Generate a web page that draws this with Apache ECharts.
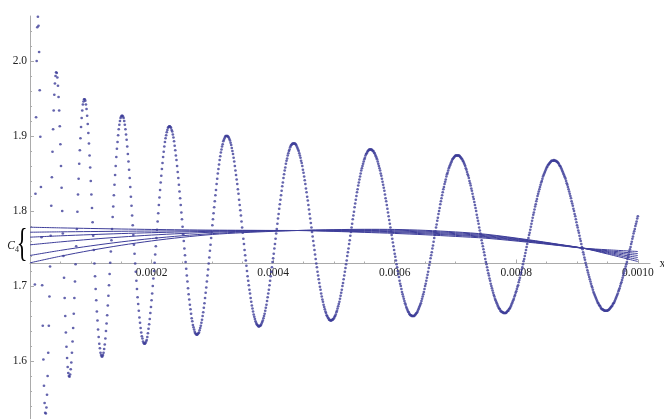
<!DOCTYPE html>
<html><head><meta charset="utf-8">
<script src="https://cdn.jsdelivr.net/npm/echarts@6/dist/echarts.min.js"></script>
<style>html,body{margin:0;padding:0;background:#fff}#c{width:664px;height:419px}</style>
</head><body><div id="c"></div>
<script>
// dots: y values (thousandths) sampled every xStep starting at x = xStep (null = no visible dot)
const xStep = 1e-6;
const dotScale = 1000;
const dots0 = [null,null,null,null,null,null,null,1702,1823,1925,2000,2045,2059,2047,2012,1961,1899,1832,1765,1701,1647,1602,1567,1544,1531,1530,1538,1555,1580,1611,1647,1686,1726,1767,1807,1845,1879,1909,1934,1955,1970,1980,1985,1984,1978,1967,1952,1934,1913,1889,1860,1831,1800,1770,1740,1711,1684,1660,1638,1619,1604,1592,1584,1580,1579,1582,1589,1598,1611,1626,1644,1663,1684,1706,1729,1753,1776,1799,1822,1843,1863,1881,1897,1912,1924,1934,1942,1946,1949,1949,1947,1942,1936,1927,1916,1904,1890,1874,1858,1840];
const dots1 = [1822,1804,1785,1767,1748,1730,1713,1696,1681,1666,1654,1642,1632,1623,1617,1611,1608,1606,1606,1608,1611,1616,1622,1630,1640,1650,1661,1674,1687,1701,1716,1731,1746,1761,1776,1792,1806,1821,1835,1848,1860,1872,1883,1892,1901,1909,1915,1920,1924,1926,1927,1927,1926,1924,1920,1915,1909,1902,1895,1886,1876,1866,1855,1844,1832,1819,1807,1794,1781,1768,1755,1743,1730,1719,1707,1696,1685,1676,1667,1658,1651,1644,1638,1633,1630,1626,1624,1623,1623,1624,1626,1628,1632,1637,1643,1649,1656,1664,1672,1681];
const dots2 = [1690,1700,1710,1720,1731,1742,1753,1764,1775,1786,1797,1808,1818,1828,1838,1847,1856,1864,1872,1879,1886,1892,1897,1901,1905,1908,1911,1912,1913,1913,1912,1911,1908,1906,1902,1898,1893,1887,1881,1874,1868,1860,1852,1844,1835,1826,1817,1808,1798,1789,1779,1769,1760,1750,1741,1732,1723,1714,1706,1697,1689,1682,1675,1669,1663,1657,1653,1648,1645,1642,1639,1637,1636,1635,1635,1636,1637,1638,1641,1644,1647,1651,1655,1660,1665,1671,1677,1684,1691,1698,1706,1714,1722,1730,1738,1747,1755,1764,1772,1781];
const dots3 = [1789,1797,1805,1813,1821,1828,1836,1843,1850,1856,1862,1868,1873,1878,1882,1886,1889,1893,1895,1897,1899,1900,1900,1900,1900,1899,1898,1896,1894,1891,1888,1884,1880,1876,1871,1866,1860,1854,1848,1842,1836,1829,1823,1815,1808,1801,1794,1786,1778,1771,1763,1756,1748,1741,1734,1727,1720,1713,1707,1701,1695,1690,1684,1679,1674,1670,1666,1662,1659,1656,1653,1651,1649,1648,1647,1646,1646,1647,1647,1648,1650,1652,1654,1657,1660,1663,1667,1671,1675,1680,1685,1690,1695,1701,1707,1713,1719,1725,1732,1737];
const dots4 = [1743,1750,1756,1763,1770,1776,1783,1790,1796,1803,1809,1815,1821,1827,1833,1838,1844,1849,1854,1858,1863,1867,1870,1874,1877,1880,1882,1885,1887,1888,1889,1890,1890,1890,1890,1890,1889,1888,1886,1884,1882,1880,1877,1874,1871,1867,1864,1860,1855,1851,1846,1841,1836,1830,1825,1819,1814,1808,1802,1796,1790,1784,1778,1772,1766,1760,1754,1748,1742,1736,1730,1725,1719,1714,1709,1704,1699,1695,1690,1686,1682,1679,1675,1672,1669,1666,1664,1661,1660,1658,1657,1655,1655,1654,1654,1654,1655,1655,1656,1657];
const dots5 = [1659,1660,1662,1665,1667,1670,1673,1676,1679,1683,1687,1691,1695,1700,1704,1709,1714,1719,1724,1729,1734,1740,1745,1750,1756,1761,1767,1772,1778,1783,1789,1794,1799,1805,1810,1815,1820,1825,1829,1834,1838,1842,1846,1850,1854,1857,1860,1863,1866,1869,1871,1874,1876,1877,1879,1880,1881,1882,1882,1882,1882,1882,1881,1880,1880,1878,1877,1875,1873,1871,1869,1866,1863,1860,1857,1854,1850,1847,1843,1839,1835,1831,1827,1822,1817,1813,1808,1803,1798,1793,1788,1783,1778,1773,1768,1763,1758,1753,1748,1743];
const dots6 = [1739,1734,1729,1725,1720,1716,1712,1707,1703,1700,1696,1692,1689,1686,1683,1680,1677,1675,1672,1670,1668,1666,1665,1663,1662,1661,1661,1660,1660,1660,1660,1660,1661,1662,1663,1664,1665,1667,1669,1671,1673,1675,1677,1680,1683,1686,1689,1692,1696,1700,1703,1707,1711,1715,1719,1724,1728,1732,1737,1741,1745,1750,1754,1759,1764,1768,1773,1778,1782,1787,1791,1796,1800,1804,1809,1813,1817,1821,1825,1829,1832,1836,1839,1842,1846,1849,1851,1854,1857,1859,1861,1863,1865,1867,1869,1870,1871,1872,1873,1874];
const dots7 = [1874,1874,1874,1874,1874,1874,1873,1872,1871,1870,1869,1867,1866,1864,1862,1860,1857,1855,1852,1849,1847,1844,1840,1837,1834,1830,1827,1823,1819,1816,1812,1808,1804,1800,1795,1791,1787,1783,1778,1774,1770,1766,1761,1757,1753,1749,1745,1741,1736,1732,1729,1725,1721,1717,1714,1710,1707,1703,1700,1697,1694,1691,1688,1686,1683,1681,1679,1677,1675,1673,1671,1670,1669,1667,1666,1666,1665,1665,1664,1664,1664,1664,1664,1665,1666,1667,1667,1669,1670,1671,1673,1675,1677,1679,1681,1683,1686,1688,1691,1693];
const dots8 = [1696,1699,1701,1705,1708,1711,1715,1718,1722,1725,1729,1733,1736,1740,1744,1748,1752,1756,1760,1764,1768,1771,1775,1779,1783,1787,1791,1795,1798,1802,1806,1809,1813,1816,1820,1823,1826,1829,1832,1835,1838,1840,1843,1846,1848,1850,1852,1854,1856,1858,1859,1861,1862,1863,1864,1865,1866,1867,1867,1867,1867,1868,1867,1867,1867,1866,1866,1865,1864,1863,1861,1860,1859,1857,1855,1853,1851,1849,1847,1845,1843,1840,1837,1835,1832,1829,1826,1823,1820,1817,1813,1810,1807,1803,1800,1796,1793,1789,1785,1781];
const dots9 = [1778,1774,1771,1767,1763,1760,1756,1752,1749,1745,1742,1738,1735,1731,1728,1725,1721,1718,1715,1712,1709,1706,1703,1700,1698,1695,1692,1690,1688,1686,1684,1682,1680,1678,1677,1675,1674,1673,1671,1670,1669,1669,1668,1668,1667,1667,1667,1667,1667,1667,1668,1668,1669,1670,1671,1672,1673,1674,1676,1677,1678,1680,1682,1684,1686,1688,1690,1693,1695,1697,1700,1703,1705,1708,1711,1714,1717,1720,1723,1726,1729,1732,1736,1739,1742,1746,1749,1752,1756,1759,1763,1766,1770,1773,1776,1780,1783,1786,1790,1793];

// C4 curve family: x positions and values
const lineX = [0, 0.00005, 0.0001, 0.00015, 0.0002, 0.00025, 0.0003, 0.00035, 0.0004, 0.00044, 0.0005, 0.00055, 0.0006, 0.00065, 0.0007, 0.00075, 0.00082, 0.00087, 0.00091, 0.00095, 0.001];
const c4a = [1.7784, 1.7775, 1.7767, 1.7760, 1.7754, 1.7749, 1.7745, 1.7743, 1.7741, 1.7740, 1.7728, 1.7715, 1.7701, 1.7683, 1.7661, 1.7637, 1.7583, 1.7540, 1.7504, 1.7483, 1.7460];
const c4b = [1.7717, 1.7722, 1.7726, 1.7730, 1.7733, 1.7735, 1.7737, 1.7739, 1.7740, 1.7740, 1.7733, 1.7724, 1.7713, 1.7696, 1.7675, 1.7649, 1.7591, 1.7543, 1.7504, 1.7471, 1.7433];
const c4c = [1.7651, 1.7669, 1.7685, 1.7699, 1.7711, 1.7721, 1.7729, 1.7735, 1.7739, 1.7740, 1.7738, 1.7733, 1.7723, 1.7708, 1.7686, 1.7659, 1.7598, 1.7547, 1.7504, 1.7460, 1.7407];
const c4d = [1.7549, 1.7588, 1.7623, 1.7653, 1.7679, 1.7700, 1.7717, 1.7729, 1.7737, 1.7740, 1.7742, 1.7741, 1.7734, 1.7720, 1.7698, 1.7670, 1.7604, 1.7550, 1.7504, 1.7449, 1.7380];
const c4e = [1.7407, 1.7475, 1.7535, 1.7588, 1.7633, 1.7670, 1.7699, 1.7721, 1.7735, 1.7740, 1.7747, 1.7749, 1.7745, 1.7731, 1.7710, 1.7681, 1.7611, 1.7553, 1.7504, 1.7438, 1.7353];
const c4f = [1.7309, 1.7397, 1.7475, 1.7543, 1.7601, 1.7649, 1.7687, 1.7711, 1.7729, 1.7740, 1.7751, 1.7756, 1.7754, 1.7742, 1.7721, 1.7690, 1.7617, 1.7556, 1.7504, 1.7427, 1.7327];

// axes
const xTicks = [0.0002, 0.0004, 0.0006, 0.0008, 0.0010];
const yTicks = [1.6, 1.7, 1.8, 1.9, 2.0];
const xMin = 0, xMax = 0.00102, xInterval = 0.0002;
const yMin = 1.5, yMax = 2.06, yInterval = 0.1;
const xAxisCross = 1.73;

const dotValues = [].concat(dots0, dots1, dots2, dots3, dots4, dots5, dots6, dots7, dots8, dots9);
const dotData = [];
dotValues.forEach((v, i) => { if (v != null) dotData.push([(i + 1) * xStep, v / dotScale]); });
const c4Lines = [c4a, c4b, c4c, c4d, c4e, c4f];

const gridTop = 16, gridLeft = 30, gridWidth = 620, gridHeight = 420;
// the x axis crosses the y axis at xAxisCross: shift it up from the grid bottom
const xAxisOffset = -(xAxisCross - yMin) / (yMax - yMin) * gridHeight;

const axisGray = '#ababab';
const serif = '"Liberation Serif","DejaVu Serif",serif';
const labelStyle = { fontFamily: serif, fontSize: 11.5, color: '#222' };
const markColor = '#3d3d99';

const chart = echarts.init(document.getElementById('c'), null, { renderer: 'canvas' });

const series = [{
  type: 'scatter', data: dotData, symbol: 'circle', symbolSize: 2.7,
  itemStyle: { color: markColor }, clip: true, silent: true, z: 2
}];
c4Lines.forEach(vals => {
  series.push({
    type: 'line', data: lineX.map((x, i) => [x, vals[i]]), smooth: 0.3,
    showSymbol: false, symbol: 'none', clip: true, silent: true, z: 3,
    lineStyle: { color: markColor, width: 1 }
  });
});

chart.setOption({
  animation: false,
  grid: { left: gridLeft, top: gridTop, width: gridWidth, height: gridHeight, containLabel: false, outerBoundsMode: 'none' },
  xAxis: {
    type: 'value', min: xMin, max: xMax, interval: xInterval,
    position: 'bottom', offset: xAxisOffset,
    axisLine: { show: true, onZero: false, lineStyle: { color: axisGray, width: 1 } },
    axisTick: { show: true, inside: true, length: 4, customValues: xTicks, lineStyle: { color: axisGray } },
    minorTick: { show: true, splitNumber: 4, length: 2, lineStyle: { color: axisGray } },
    axisLabel: Object.assign({ show: true, customValues: xTicks, margin: 3, hideOverlap: false, formatter: v => v.toFixed(4) }, labelStyle),
    splitLine: { show: false }, minorSplitLine: { show: false },
    name: 'x', nameLocation: 'end', nameGap: 4,
    nameTextStyle: { fontFamily: serif, fontSize: 12, color: '#222' }
  },
  yAxis: {
    type: 'value', min: yMin, max: yMax, interval: yInterval,
    axisLine: { show: true, onZero: true, lineStyle: { color: axisGray, width: 1 } },
    axisTick: { show: true, inside: true, length: 4, customValues: yTicks, lineStyle: { color: axisGray } },
    minorTick: { show: true, splitNumber: 5, length: 2, lineStyle: { color: axisGray } },
    axisLabel: Object.assign({ customValues: yTicks, margin: 3, formatter: v => v.toFixed(1) }, labelStyle),
    splitLine: { show: false }
  },
  series: series
});

// C4 label with brace spanning the starting values of the curve family
const starts = c4Lines.map(l => l[0]);
const pTop = chart.convertToPixel({ gridIndex: 0 }, [0, Math.max(...starts)]);
const pBot = chart.convertToPixel({ gridIndex: 0 }, [0, Math.min(...starts)]);
const midY = (pTop[1] + pBot[1]) / 2;
const span = pBot[1] - pTop[1];
chart.setOption({
  graphic: [{
    type: 'text', x: pTop[0] - 2.5, y: midY, scaleX: 0.55,
    style: { text: '{', fontFamily: serif, fontSize: span * 1.15, fill: '#000', align: 'right', verticalAlign: 'middle' }
  }, {
    type: 'text', x: pTop[0] - 11, y: midY + 1,
    style: {
      text: '{c|C}{s|4}', align: 'right', verticalAlign: 'middle',
      rich: {
        c: { fontFamily: serif, fontStyle: 'italic', fontSize: 11.5, fill: '#222' },
        s: { fontFamily: serif, fontSize: 8, fill: '#222', padding: [7, 0, 0, 0] }
      }
    }
  }]
});
</script>
</body></html>
